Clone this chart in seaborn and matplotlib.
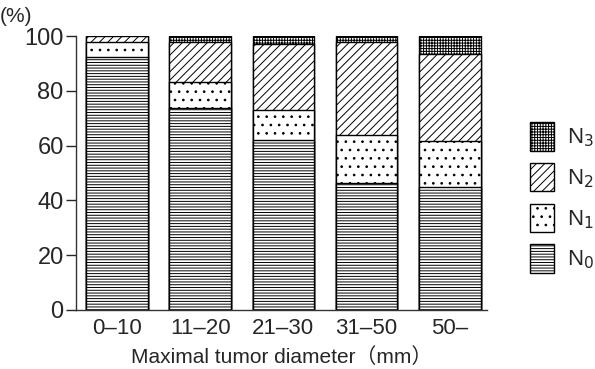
import matplotlib
matplotlib.use("Agg")
import matplotlib.pyplot as plt
import matplotlib.patches as mpatches
import pandas as pd
import seaborn as sns

# tumor diameter groups and nodal status shares (%)
groups = ["0\u201310", "11\u201320", "21\u201330", "31\u201350", "50\u2013"]
n0 = [92.5, 73.7, 62.0, 46.2, 44.8]
n1 = [5.2, 9.5, 11.0, 17.8, 16.8]
n2 = [2.3, 14.8, 24.2, 33.7, 31.8]
n3 = [0.0, 2.0, 2.8, 2.3, 6.6]

sns.set_style("ticks")
plt.rcParams["font.family"] = ["Liberation Sans", "Noto Sans CJK JP", "DejaVu Sans"]
plt.rcParams["hatch.linewidth"] = 0.7

df = pd.DataFrame({"group": groups, "N0": n0, "N1": n1, "N2": n2, "N3": n3})
df["c0"] = df["N0"]
df["c1"] = df["c0"] + df["N1"]
df["c2"] = df["c1"] + df["N2"]
df["c3"] = df["c2"] + df["N3"]

fig = plt.figure(figsize=(5.95, 3.69), dpi=100)
ax = fig.add_axes([0.128, 0.160, 0.691, 0.742])

# draw cumulative layers from the top down, each one covering the one before
layers = [("c3", "++++++"), ("c2", "////"), ("c1", ".."), ("c0", "------")]
for col, hatch in layers:
    before = len(ax.patches)
    sns.barplot(data=df, x="group", y=col, color="white", width=0.74,
                edgecolor="black", linewidth=1.0, saturation=1, ax=ax)
    for p in ax.patches[before:]:
        p.set_hatch(hatch)
        p.set_facecolor("white")
        p.set_edgecolor("black")

ax.set_ylim(0, 100)
ax.set_xlim(-0.49, 4.45)
ax.set_yticks([0, 20, 40, 60, 80, 100])
ax.set_ylabel("")
ax.set_xlabel("Maximal tumor diameter\uff08mm\uff09", fontsize=15, labelpad=6)
ax.tick_params(axis="y", labelsize=17, length=7, width=1, pad=2)
ax.tick_params(axis="x", labelsize=16, length=0, pad=6)
sns.despine(ax=ax)
ax.spines["left"].set_linewidth(1.0)
ax.spines["bottom"].set_linewidth(1.0)
ax.spines["left"].set_color("#333333")
ax.spines["bottom"].set_color("#333333")

fig.text(0.0, 0.94, "(%)", fontsize=15)

handles = [mpatches.Patch(facecolor="white", edgecolor="black", hatch=h)
           for h in ["++++++", "////", "..", "------"]]
labels = ["N$_3$", "N$_2$", "N$_1$", "N$_0$"]
fig.legend(handles, labels, loc="center left", bbox_to_anchor=(0.875, 0.465),
           frameon=False, fontsize=16, handlelength=1.1, handleheight=1.6,
           labelspacing=0.55, handletextpad=0.6, borderaxespad=0)

fig.savefig("out.png", dpi=100)
